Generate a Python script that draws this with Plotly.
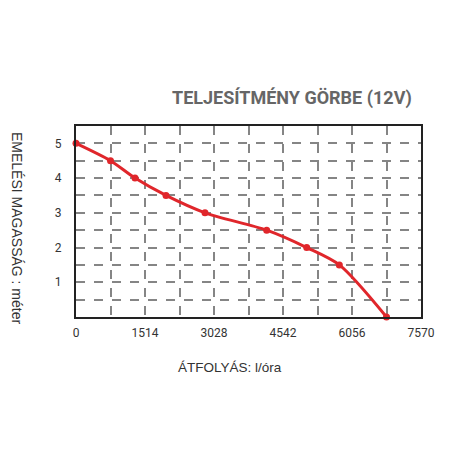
import plotly.graph_objects as go

# flow (l/ora) vs lifting height (m)
flow = [0, 757, 1295, 1975, 2830, 4184, 5062, 5778, 6813]
height = [5.0, 4.5, 4.0, 3.5, 3.0, 2.5, 2.0, 1.5, 0.0]

x_ticks = [757 * i for i in range(11)]
x_labels = [str(v) if i % 2 == 0 else "" for i, v in enumerate(x_ticks)]
y_ticks = [0.5 * i for i in range(1, 11)]
y_labels = [str(int(v)) if v == int(v) else "" for v in y_ticks]

red = "#e0262b"

fig = go.Figure()
fig.add_trace(go.Scatter(
    x=flow, y=height, mode="lines+markers",
    line=dict(color=red, width=3, shape="spline", smoothing=0.8),
    marker=dict(color=red, size=7),
    cliponaxis=False, showlegend=False,
))

axis_common = dict(
    showgrid=True, gridcolor="#858585", gridwidth=1.5, griddash="dash",
    showline=True, linecolor="#222222", linewidth=2, mirror=True,
    zeroline=False, ticks="outside", ticklen=4, tickcolor="rgba(0,0,0,0)",
    tickfont=dict(family="Roboto", size=12, color="#333333"),
)

fig.update_xaxes(range=[0, 7570], tickvals=x_ticks, ticktext=x_labels, **axis_common)
fig.update_yaxes(range=[0, 5.5], tickvals=y_ticks, ticktext=y_labels, **axis_common)
fig.update_yaxes(ticklen=10)

fig.add_annotation(
    text="<b>TELJESÍTMÉNY GÖRBE (12V)</b>", xref="paper", yref="paper",
    x=0.98, y=1.147, xanchor="right", yanchor="middle", showarrow=False,
    font=dict(family="Roboto", size=18, color="#666666"),
)
fig.add_annotation(
    text="ÁTFOLYÁS: l/óra", xref="paper", yref="paper",
    x=0.445, y=-0.267, xanchor="center", yanchor="middle", showarrow=False,
    font=dict(family="Liberation Sans", size=13.5, color="#333333"),
)
fig.add_annotation(
    text="EMELÉSI MAGASSÁG : méter", xref="paper", yref="paper",
    x=-0.171, y=0.466, xanchor="center", yanchor="middle", showarrow=False,
    textangle=90,
    font=dict(family="Liberation Sans", size=14, color="#333333"),
)

# page body adds 8px offset, so the figure is 440 wide/high
fig.update_layout(
    width=440, height=440,
    margin=dict(l=68, r=27, t=118, b=131),
    paper_bgcolor="white", plot_bgcolor="white",
)

fig.write_html("out.html")
